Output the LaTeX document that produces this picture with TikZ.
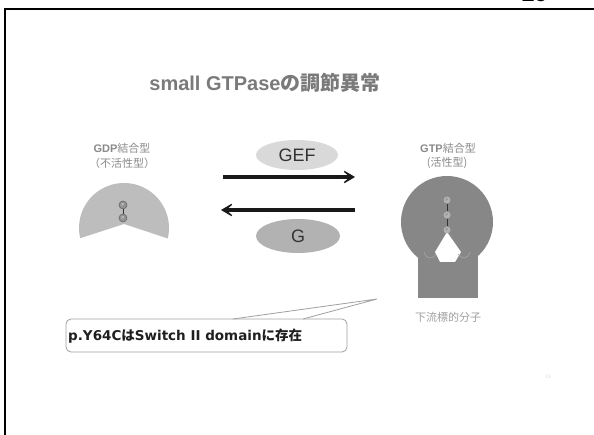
\documentclass[tikz,border=0pt]{standalone}
\usepackage{fontspec}
\setmainfont{Liberation Sans}
\newfontfamily\jp{Noto Sans CJK JP}
\newfontfamily\dv{DejaVu Sans}
\usetikzlibrary{arrows.meta,shapes.geometric}

\definecolor{titlegray}{HTML}{7A7A7A}
\definecolor{labelgray}{HTML}{8A8A8A}
\definecolor{gdpgray}{HTML}{BDBDBD}
\definecolor{gtpgray}{HTML}{878787}
\definecolor{gefgray}{HTML}{D9D9D9}
\definecolor{gapgray}{HTML}{B2B2B2}
\definecolor{inkgray}{HTML}{333333}
\definecolor{calloutgray}{HTML}{A0A0A0}

\begin{document}
\begin{tikzpicture}[x=1pt,y=-1pt,
  label/.style={text=labelgray, font=\fontsize{11}{13}\selectfont, align=center, inner sep=0pt},
  pdotL/.style={circle, minimum size=8pt, inner sep=0pt, draw=gray!80!black, line width=0.6pt,
    fill=gray!85, text=white!85!gray, font=\fontsize{4}{4}\selectfont},
  pdotR/.style={circle, minimum size=7pt, inner sep=0pt, fill=gapgray,
    text=gray, font=\fontsize{4}{4}\selectfont},
  plink/.style={line width=1pt, draw=inkgray},
  bigarrow/.style={line width=3.2pt, draw=black!90, -{Stealth[length=17pt,width=20pt,inset=12pt]}},
  enzyme/.style={ellipse, inner sep=0pt, text=inkgray, font=\fontsize{18}{20}\selectfont},
  lobe/.style={draw=gtpgray!75!white, line width=0.6pt}
]
\useasboundingbox (0,0) rectangle (594,435);
\clip (0,0) rectangle (594,435);
\fill[white] (0,0) rectangle (594,435);

% slide frame and the cut-off slide number above it
\node[anchor=base west, inner sep=0pt, font=\fontsize{24}{24}\selectfont\bfseries] (slideno) at (521,2) {19};
\draw[line width=2pt] (5,440) -- (5,9.5) -- (600,9.5);

% title
\node[text=titlegray, inner sep=0pt, font=\fontsize{20}{24}\selectfont\bfseries] (title) at (265,83)
  {small GTPase{\jp の調節異常}};

% GDP-bound (inactive) form
\node[label] (gdp) at (122,148) {\textbf{GDP}{\jp 結合型}};
\node[label] (gdp2) at (122,163) {{\jp （不活性型）}};
\fill[gdpgray] (124,228) ++(13.4:45) arc[start angle=13.4, end angle=-193.1, radius=45]
  -- (124,224) -- cycle;
\node[pdotL] (p1) at (123,205) {P};
\node[pdotL] (p2) at (123,218) {P};
\draw[plink] (p1) -- (p2);

% exchange / hydrolysis arrows
\node[enzyme, fill=gefgray, minimum width=82pt, minimum height=30pt] (gef) at (297,155) {GEF};
\node[enzyme, fill=gapgray, minimum width=84pt, minimum height=34pt] (gap) at (298,236) {G};
\coordinate (fwdS) at (223,177);
\coordinate (fwdE) at (355,177);
\coordinate (revS) at (355,210);
\coordinate (revE) at (221,210);
\draw[bigarrow] (fwdS) -- (fwdE);
\draw[bigarrow] (revS) -- (revE);

% GTP-bound (active) form bound to its effector
\node[label] (gtp) at (448,148) {\textbf{GTP}{\jp 結合型}};
\node[label] (gtp2) at (447,163) {{\jp (活性型)}};
\fill[gtpgray] (447,222) circle[radius=46];
\fill[gtpgray] (418,255) rectangle (478,298);
\fill[white] (447,232) -- (435,252) -- (440,262) -- (455,262) -- (461,252) -- cycle;
\draw[lobe] (424,252) .. controls (426,259) and (432,260) .. (436,254);
\draw[lobe] (458,254) .. controls (462,260) and (468,259) .. (470,252);
\node[pdotR] (q1) at (447,200) {P};
\node[pdotR] (q2) at (447,215) {P};
\node[pdotR] (q3) at (447,230) {P};
\draw[plink] (q1) -- (q2);
\draw[plink] (q2) -- (q3);
\node[label, text=gray!75] (eff) at (448,317) {{\jp 下流標的分子}};

% callout
\node[draw=calloutgray, line width=0.8pt, rounded corners=5pt, fill=white,
  minimum width=281pt, minimum height=33pt, inner sep=0pt] (box) at (206.5,335.5) {};
\coordinate (tailA) at (233,319);
\coordinate (tailB) at (303,319);
\coordinate (tip) at (377,299);
\fill[white] ([yshift=0.8pt]tailA) -- (tip) -- ([yshift=0.8pt]tailB) -- cycle;
\draw[calloutgray, line width=0.8pt] (tailA) -- (tip) -- (tailB);
\node[anchor=west, inner sep=0pt, text=black!88, font=\fontsize{13.5}{16}\selectfont\bfseries] (note) at (68,336)
  {{\dv p.Y64C}{\jp は}{\dv Switch II domain}{\jp に存在}};

% page number
\node[text=gray!30, inner sep=0pt, font=\fontsize{5}{5}\selectfont] (page) at (548,377) {15};
\end{tikzpicture}
\end{document}
